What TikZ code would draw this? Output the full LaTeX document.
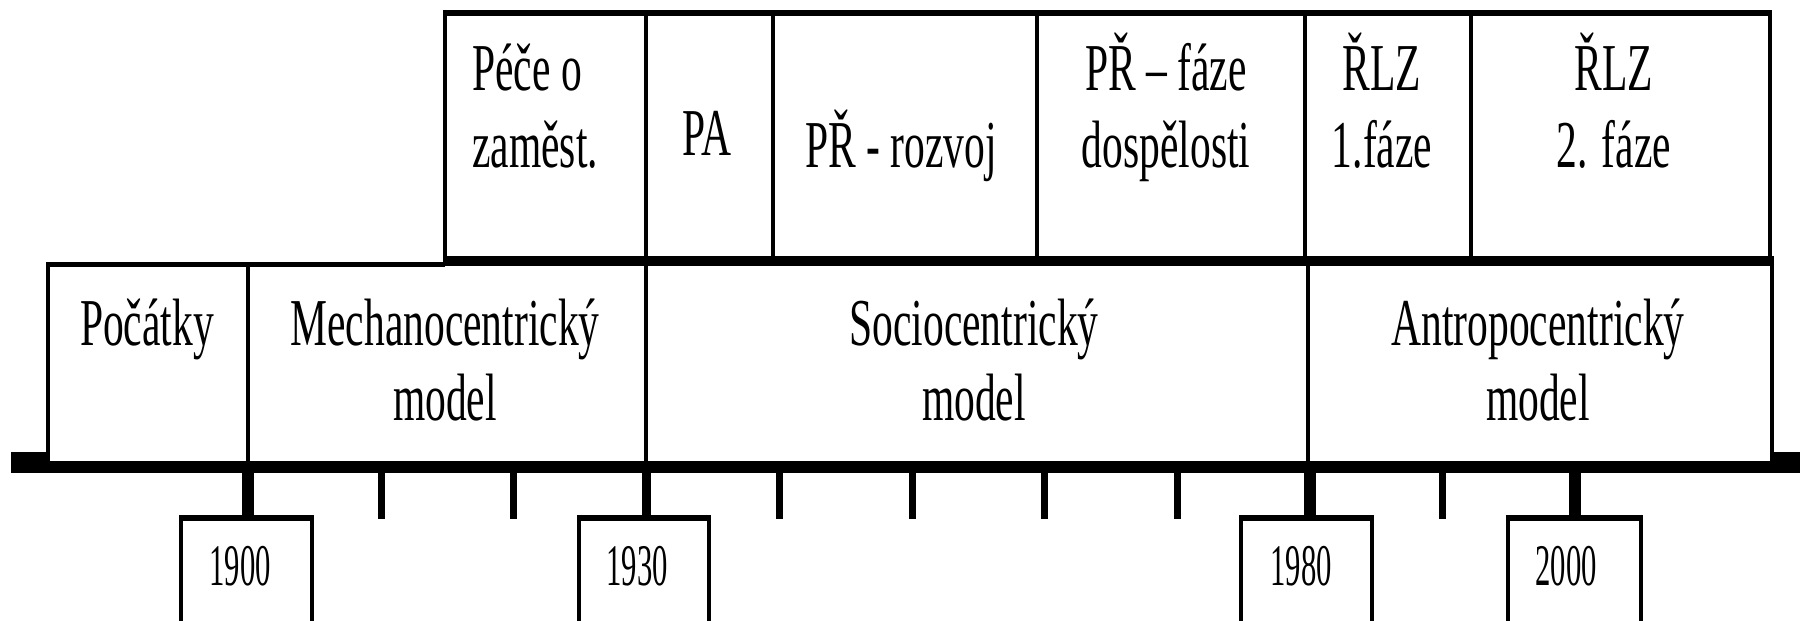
\documentclass[tikz,border=0pt]{standalone}
\usepackage{fontspec}
\setmainfont[FakeStretch=0.62]{Liberation Serif}
\newfontfamily\yearfont[FakeStretch=0.52]{Liberation Serif}
\tikzset{
  lbl/.style={font=\fontsize{67}{75}\selectfont, inner sep=0pt, anchor=base},
  yr/.style={font=\yearfont\fontsize{59}{60}\selectfont, inner sep=0pt, anchor=base},
  edge/.style={line width=3.5pt},
  hedge/.style={line width=6pt},
  heavy/.style={line width=10pt},
  axis/.style={line width=12pt},
  major/.style={line width=12pt},
  minor/.style={line width=7pt},
}
\begin{document}
\begin{tikzpicture}[x=1pt,y=-1pt]
\useasboundingbox (0,0) rectangle (1800,621);
% ---------- top row ----------
\draw[edge] (445,13) rectangle (1770,262);
\draw[hedge] (443,13) -- (1772,13);
\draw[heavy] (443,261) -- (1774,261);
\foreach \x in {646,773,1037,1305,1471} \draw[edge] (\x,13) -- (\x,262);
% ---------- lower row ----------
\draw[edge] (48,262) -- (48,467);
\draw[edge] (1772,262) -- (1772,467);
\draw[line width=5pt] (46,264) -- (445,264);
\foreach \x in {248,646,1308} \draw[edge] (\x,262) -- (\x,467);
% ---------- timeline ----------
\draw[axis] (11,467) -- (1800,467);
\fill (11,452) rectangle (48,467);
\fill (1772,452) rectangle (1800,467);
% ticks
\foreach \x in {248,1310,1575} \draw[major] (\x,467) -- (\x,519);
\draw[line width=9pt] (646,467) -- (646,519);
\foreach \x in {381,513,779,912,1044,1177,1442} \draw[minor] (\x,467) -- (\x,519);
% year boxes
\foreach \a/\b in {181/312, 579/709, 1241/1372, 1508/1641} {
  \draw[line width=4pt] (\a,630) -- (\a,518) -- (\b,518) -- (\b,630);
  \draw[hedge] (\a-2,518) -- (\b+2,518);
}
% ---------- texts: top row ----------
\node[lbl, anchor=base west] (pece1) at (472,90) {Péče o};
\node[lbl, anchor=base west] (pece2) at (472,167) {zaměst.};
\node[lbl] (pa) at (707,155) {PA};
\node[lbl] (rozvoj) at (901,167) {PŘ - rozvoj};
\node[lbl] (dosp1) at (1166,90) {PŘ – fáze};
\node[lbl] (dosp2) at (1166,167) {dospělosti};
\node[lbl] (rlza1) at (1382,90) {ŘLZ};
\node[lbl] (rlza2) at (1382,167) {1.fáze};
\node[lbl] (rlzb1) at (1614,90) {ŘLZ};
\node[lbl] (rlzb2) at (1614,167) {2. fáze};
% ---------- texts: lower row ----------
\node[lbl] (pocatky) at (147,345) {Počátky};
\node[lbl] (mech1) at (445,345) {Mechanocentrický};
\node[lbl] (mech2) at (445,420) {model};
\node[lbl] (soc1) at (974,345) {Sociocentrický};
\node[lbl] (soc2) at (974,420) {model};
\node[lbl] (ant1) at (1538,345) {Antropocentrický};
\node[lbl] (ant2) at (1538,420) {model};
% ---------- years ----------
\node[yr] (y1900) at (240,585) {1900};
\node[yr] (y1930) at (637,585) {1930};
\node[yr] (y1980) at (1301,585) {1980};
\node[yr] (y2000) at (1566,585) {2000};
\end{tikzpicture}
\end{document}
